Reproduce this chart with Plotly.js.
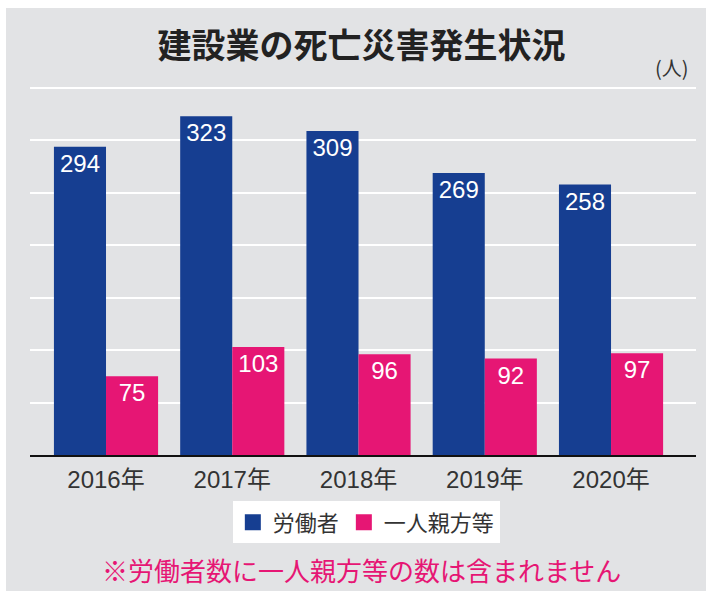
<!DOCTYPE html>
<html><head><meta charset="utf-8">
<script src="https://cdn.plot.ly/plotly-3.0.1.min.js"></script>
<style>
html,body{margin:0;padding:0;background:#fff;}
#wrap{position:relative;width:706px;height:591px;}
#chart{width:706px;height:591px;}
#frame{position:absolute;left:0;top:0;width:700px;height:583px;border-left:6px solid #fff;border-top:8px solid #fff;pointer-events:none;}
</style></head>
<body><div id="wrap"><div id="chart"></div><div id="frame"></div></div>
<script>
const categories = ['2016年','2017年','2018年','2019年','2020年'];
const workers = [294, 323, 309, 269, 258];
const soleProprietors = [75, 103, 96, 92, 97];
const seriesNames = ['労働者','一人親方等'];

const FONT = '"Noto Sans CJK JP", "Noto Sans", sans-serif';
const NUMFONT = '"Liberation Sans", "Noto Sans CJK JP", sans-serif';
const BLUE = 'rgb(22,62,145)';
const PINK = 'rgb(230,22,116)';

const traces = [
  {type:'bar', name:seriesNames[0], x:categories, y:workers, marker:{color:BLUE}, showlegend:false,
   text:workers.map(String), textposition:'inside', insidetextanchor:'end',
   textfont:{color:'#fff', size:24, family:NUMFONT}, hoverinfo:'none'},
  {type:'bar', name:seriesNames[1], x:categories, y:soleProprietors, marker:{color:PINK}, showlegend:false,
   text:soleProprietors.map(String), textposition:'inside', insidetextanchor:'end',
   textfont:{color:'#fff', size:24, family:NUMFONT}, hoverinfo:'none'},
  // legend keys (square swatches)
  {type:'scatter', mode:'markers', name:seriesNames[0], x:[categories[0]], y:[null],
   marker:{symbol:'square', size:16, color:BLUE}, hoverinfo:'none'},
  {type:'scatter', mode:'markers', name:seriesNames[1], x:[categories[0]], y:[null],
   marker:{symbol:'square', size:16, color:PINK}, hoverinfo:'none'}
];

const layout = {
  width:706, height:591,
  margin:{l:30, r:10, t:87, b:136},
  paper_bgcolor:'rgb(226,227,229)', plot_bgcolor:'rgba(0,0,0,0)',
  font:{family:FONT, color:'#333'},
  title:{text:'建設業の死亡災害発生状況', font:{family:FONT, size:34, weight:700, color:'#222'},
         x:0.512, xanchor:'center', y:0.922, yanchor:'middle'},
  barmode:'group', bargap:0.175, bargroupgap:0,
  xaxis:{type:'category', range:[-0.602, 4.673], showline:true, linecolor:'#111', linewidth:1.5,
         ticks:'', tickfont:{size:24, color:'#333', family:NUMFONT}, ticklabelstandoff:3, showgrid:false},
  yaxis:{range:[0, 351], dtick:50, showticklabels:false, showgrid:true, gridcolor:'#fff', gridwidth:2,
         zeroline:false, showline:false, ticks:''},
  showlegend:true,
  legend:{orientation:'h', x:0.505, xanchor:'center', y:-0.183, yanchor:'middle',
          bgcolor:'#fff', font:{size:22, color:'#333', family:FONT}, itemwidth:30, traceorder:'normal'},
  annotations:[
    {text:'(人)', xref:'paper', yref:'paper', x:0.964, y:1.052, xanchor:'center', yanchor:'middle',
     showarrow:false, font:{size:20, color:'#333', family:FONT}},
    {text:'※労働者数に一人親方等の数は含まれません', xref:'paper', yref:'paper', x:0.498, y:-0.312,
     xanchor:'center', yanchor:'middle', showarrow:false, font:{size:26, color:PINK, family:FONT}}
  ]
};
Plotly.newPlot('chart', traces, layout, {displayModeBar:false, staticPlot:true});
</script></body></html>
